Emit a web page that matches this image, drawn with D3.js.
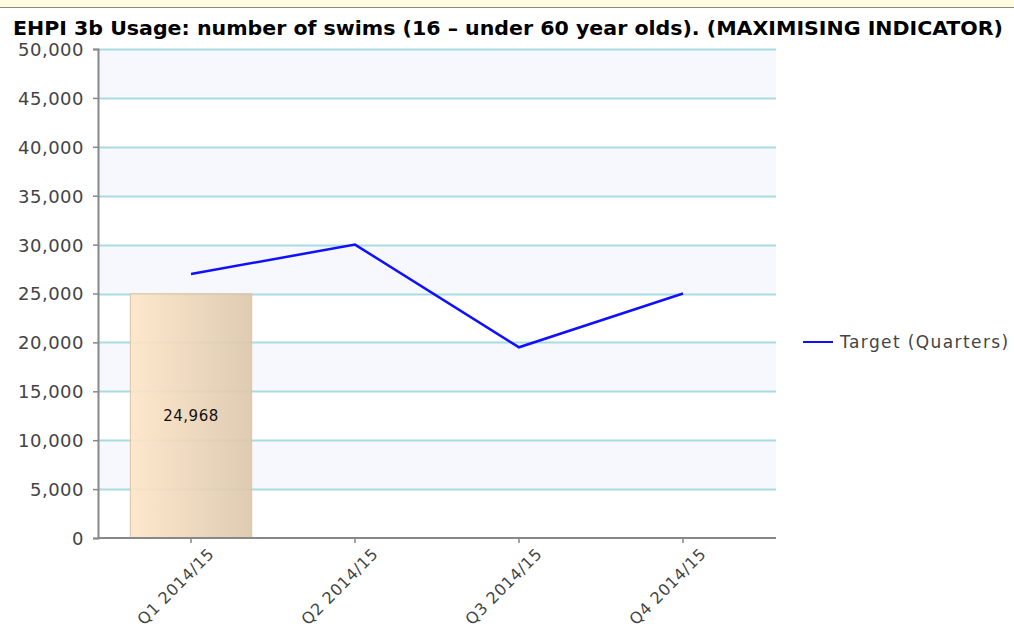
<!DOCTYPE html>
<html>
<head>
<meta charset="utf-8">
<script src="https://cdn.jsdelivr.net/npm/d3@7"></script>
<style>
  body { margin: 0; background: #fff; }
  svg { display: block; }
</style>
</head>
<body>
<svg id="chart"></svg>
<script>
// chart data
var quarters = ['Q1 2014/15', 'Q2 2014/15', 'Q3 2014/15', 'Q4 2014/15'];
var actualValues = [24968, null, null, null];
var targetValues = [27000, 30000, 19500, 25000];
var yTicks = [0, 5000, 10000, 15000, 20000, 25000, 30000, 35000, 40000, 45000, 50000];
var titleText = 'EHPI 3b Usage: number of swims (16 \u2013 under 60 year olds). (MAXIMISING INDICATOR)';
var legendLabel = 'Target (Quarters)';

var width = 1014;
var height = 632;
var plot = { left: 98, right: 776, top: 49, bottom: 538 };

var svg = d3.select('#chart')
  .attr('width', width)
  .attr('height', height);

var defs = svg.append('defs');
var grad = defs.append('linearGradient').attr('id', 'barGrad')
  .attr('x1', '0%').attr('x2', '100%').attr('y1', '0%').attr('y2', '0%');
grad.append('stop').attr('offset', '0%').attr('stop-color', '#fde6c8');
grad.append('stop').attr('offset', '100%').attr('stop-color', '#dcc7ab');

// top strip
svg.append('rect').attr('x', 0).attr('y', 0).attr('width', width).attr('height', 7)
  .attr('fill', '#fdfbe0');
svg.append('line').attr('x1', 0).attr('x2', width).attr('y1', 7.5).attr('y2', 7.5)
  .attr('stroke', '#8a8a80').attr('stroke-width', 1);

// title
svg.append('text')
  .attr('x', 13).attr('y', 35)
  .attr('textLength', 990).attr('lengthAdjust', 'spacingAndGlyphs')
  .style('font-family', '"DejaVu Sans Condensed", "DejaVu Sans", sans-serif')
  .style('font-weight', 'bold')
  .style('font-size', '19px')
  .attr('fill', '#000')
  .text(titleText);

var y = d3.scaleLinear().domain([0, 50000]).range([plot.bottom, plot.top]);
var x = d3.scaleBand().domain(quarters).range([109, 765]).padding(0);

// alternating bands
var bands = yTicks.slice(0, -1).map(function (v, i) { return [v, yTicks[i + 1], i]; });
svg.append('g').selectAll('rect')
  .data(bands)
  .enter().append('rect')
    .attr('x', plot.left)
    .attr('y', function (d) { return y(d[1]); })
    .attr('width', plot.right - plot.left)
    .attr('height', function (d) { return y(d[0]) - y(d[1]); })
    .attr('fill', function (d) { return d[2] % 2 === 1 ? '#f7f8fd' : '#ffffff'; });

// gridlines
svg.append('g').selectAll('line')
  .data(yTicks.slice(1))
  .enter().append('line')
    .attr('x1', plot.left).attr('x2', plot.right)
    .attr('y1', function (d) { return Math.round(y(d)) + 0.5; })
    .attr('y2', function (d) { return Math.round(y(d)) + 0.5; })
    .attr('stroke', '#a9dbe4').attr('stroke-width', 2);

// bar
var barW = x.bandwidth() * 0.74;
var barG = svg.append('g');
barG.selectAll('rect')
  .data(quarters.filter(function (q, i) { return actualValues[i] != null; }))
  .enter().append('rect')
    .attr('x', function (d) { return x(d) + x.bandwidth() / 2 - barW / 2; })
    .attr('y', function (d) { return y(actualValues[quarters.indexOf(d)]); })
    .attr('width', barW)
    .attr('height', function (d) { return plot.bottom - y(actualValues[quarters.indexOf(d)]); })
    .attr('fill', 'url(#barGrad)')
    .attr('fill-opacity', 0.92)
    .attr('stroke', '#d8c4a6').attr('stroke-width', 1);
barG.selectAll('text')
  .data(quarters.filter(function (q, i) { return actualValues[i] != null; }))
  .enter().append('text')
    .attr('x', function (d) { return x(d) + x.bandwidth() / 2; })
    .attr('y', function (d) { return y(actualValues[quarters.indexOf(d)] / 2) + 5; })
    .attr('text-anchor', 'middle')
    .style('font-family', '"DejaVu Sans", Verdana, sans-serif')
    .style('font-size', '15px')
    .style('letter-spacing', '0.5px')
    .attr('fill', '#111')
    .text(function (d) { return d3.format(',')(actualValues[quarters.indexOf(d)]); });

// target line
var line = d3.line()
  .x(function (d, i) { return x(quarters[i]) + x.bandwidth() / 2; })
  .y(function (d) { return y(d); });
svg.append('path')
  .datum(targetValues)
  .attr('d', line)
  .attr('fill', 'none')
  .attr('stroke', '#1010ff')
  .attr('stroke-width', 2.5);

// y axis
var yAxis = d3.axisLeft(y).tickValues(yTicks).tickSize(5).tickPadding(9)
  .tickFormat(d3.format(','));
var yG = svg.append('g')
  .attr('transform', 'translate(' + plot.left + ',0)')
  .call(yAxis);
yG.select('.domain').attr('stroke', '#888').attr('stroke-width', 2);
yG.selectAll('.tick line').attr('stroke', '#888').attr('stroke-width', 1.5);
yG.selectAll('.tick text')
  .attr('fill', '#444')
  .style('font-family', '"DejaVu Sans", Verdana, sans-serif')
  .style('font-size', '18px')
  .style('letter-spacing', '0.5px')
  .attr('dy', '0.36em');

// x axis
var xAxis = d3.axisBottom(x).tickSize(5).tickSizeOuter(0).tickPadding(0);
var xG = svg.append('g')
  .attr('transform', 'translate(0,' + plot.bottom + ')')
  .call(xAxis);
xG.select('.domain').attr('d', 'M' + plot.left + ',0H' + plot.right)
  .attr('stroke', '#888').attr('stroke-width', 2);
xG.selectAll('.tick line').attr('stroke', '#888').attr('stroke-width', 1.5);
xG.selectAll('.tick text')
  .attr('fill', '#444')
  .attr('text-anchor', 'end')
  .attr('dy', 0)
  .attr('x', 0).attr('y', 0)
  .attr('transform', 'translate(24,17) rotate(-45)')
  .style('font-family', '"DejaVu Sans", Verdana, sans-serif')
  .style('font-size', '16px')
  .style('letter-spacing', '0.6px');

// legend
var legend = svg.append('g').attr('transform', 'translate(803,342)');
legend.append('line').attr('x1', 0).attr('x2', 30).attr('y1', 0).attr('y2', 0)
  .attr('stroke', '#1010ff').attr('stroke-width', 2);
legend.append('text')
  .attr('x', 37).attr('y', 6)
  .attr('fill', '#444')
  .style('font-family', '"DejaVu Sans", Verdana, sans-serif')
  .style('font-size', '17px')
  .style('letter-spacing', '1.4px')
  .text(legendLabel);
</script>
</body>
</html>
